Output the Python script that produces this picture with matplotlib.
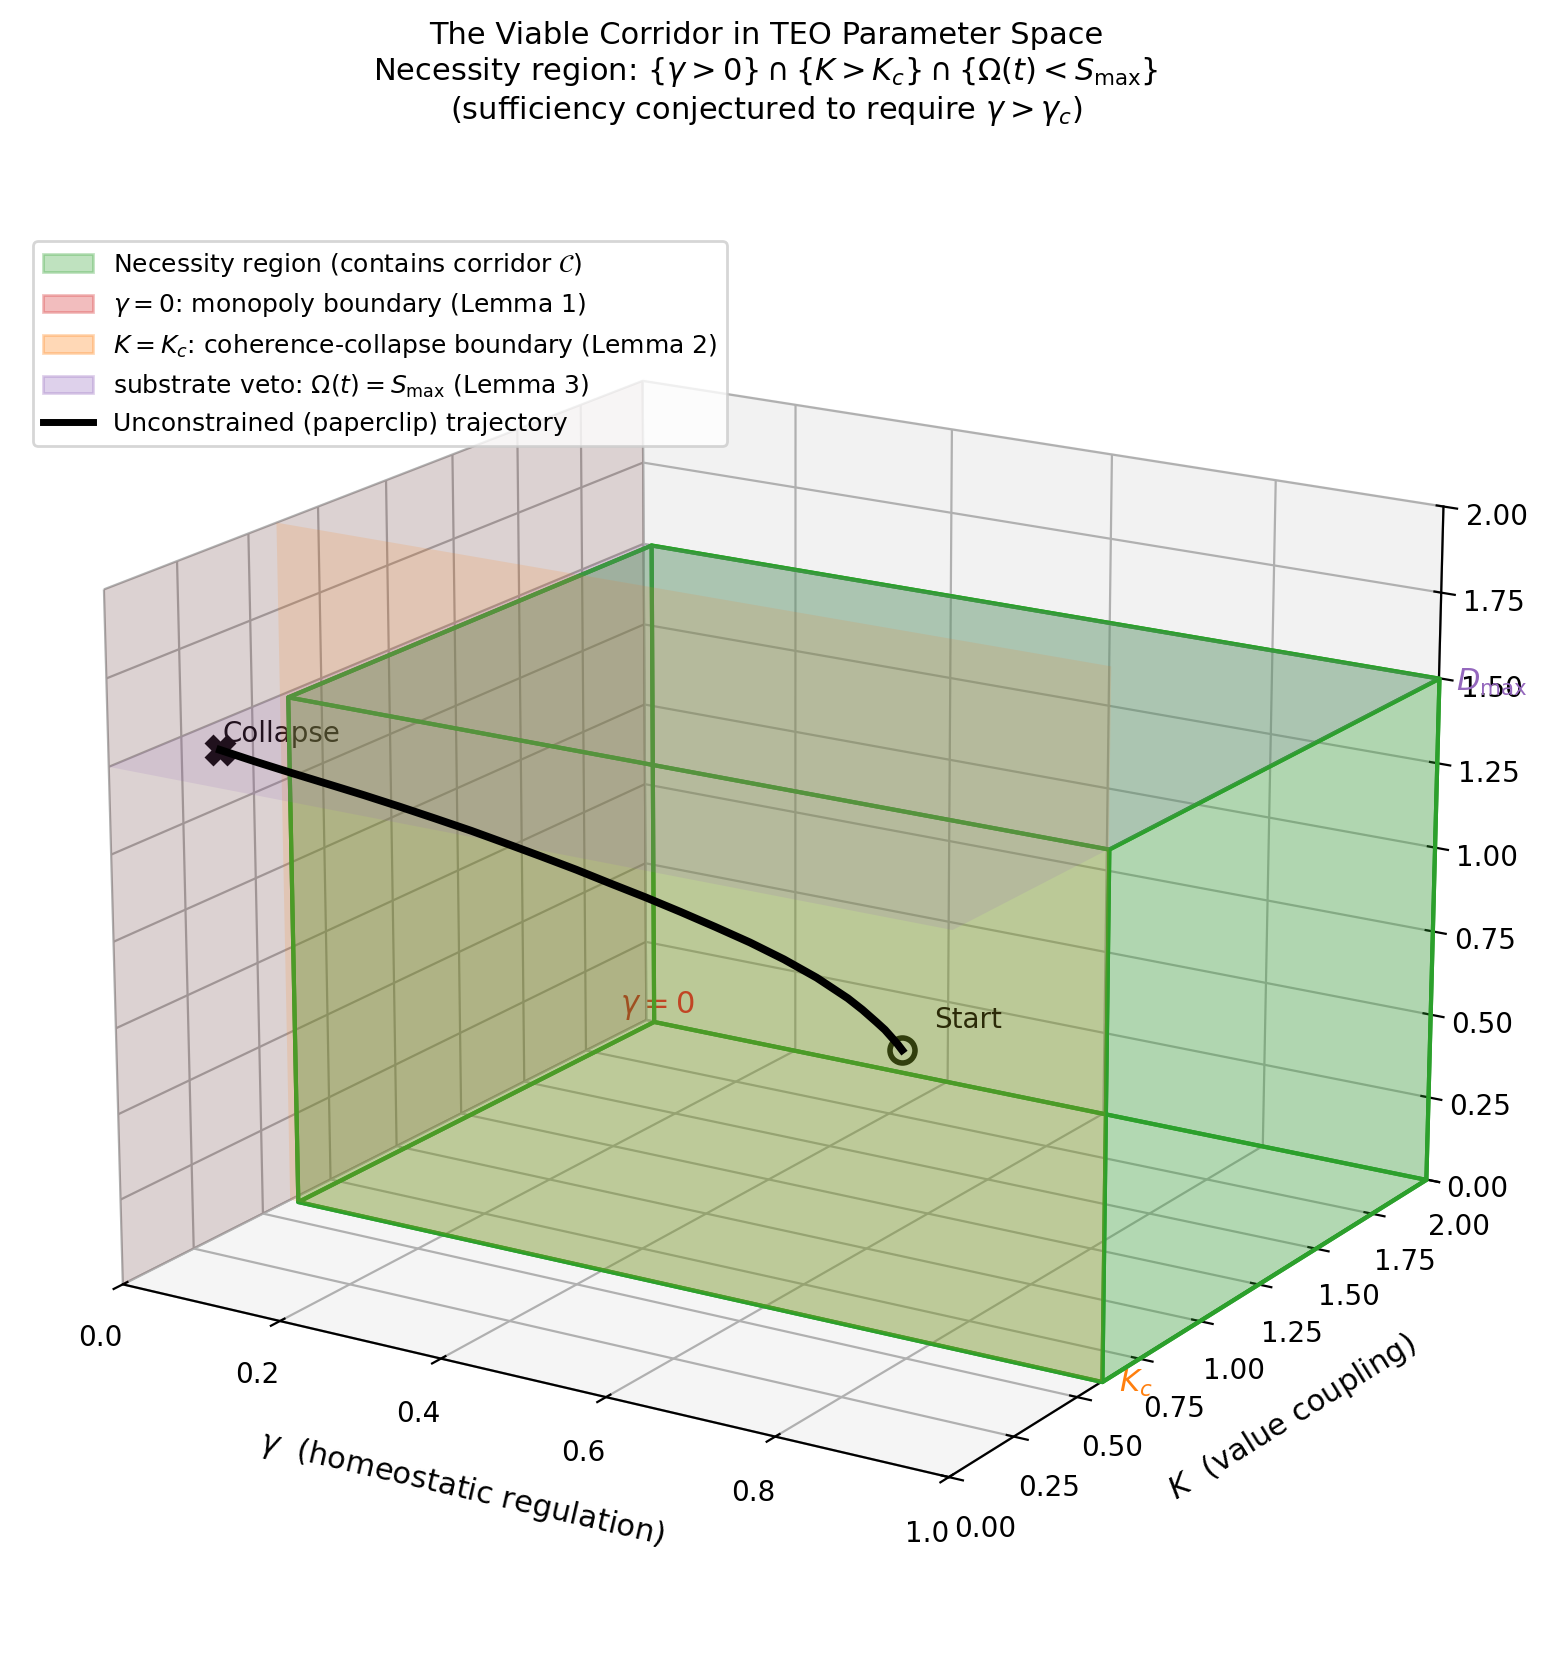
import matplotlib
matplotlib.use("Agg")
import matplotlib.pyplot as plt
from matplotlib.colors import to_rgba
from matplotlib.patches import Patch
from matplotlib.lines import Line2D
from mpl_toolkits.mplot3d.art3d import Poly3DCollection

K_C = 0.6
S_MAX = 1.5
GAMMA_MIN = 0.01
GAMMA_MAX = 1.0
K_MAX = 2.0

traj_gamma = [0.5, 0.497, 0.493, 0.488, 0.482, 0.472, 0.462, 0.44, 0.417, 0.393, 0.369, 0.344, 0.32,
              0.295, 0.271, 0.246, 0.221, 0.197, 0.172, 0.146, 0.121, 0.096, 0.07, 0.045, 0.02]
traj_k = [1.472, 1.463, 1.454, 1.44, 1.425, 1.399, 1.372, 1.316, 1.258, 1.198, 1.138, 1.078, 1.019,
          0.959, 0.901, 0.843, 0.785, 0.727, 0.669, 0.612, 0.554, 0.497, 0.44, 0.384, 0.329]
traj_d = [0.355, 0.375, 0.395, 0.423, 0.449, 0.492, 0.532, 0.605, 0.671, 0.733, 0.79, 0.846, 0.899,
          0.951, 1.002, 1.051, 1.099, 1.146, 1.191, 1.235, 1.278, 1.319, 1.36, 1.401, 1.443]

fig = plt.figure(figsize=(7.74, 8.4), dpi=200)
ax = fig.add_subplot(projection='3d')
ax.set_position([0.0022, 0.01275, 0.985, 0.8865])
ax.view_init(elev=18, azim=-58)
ax.set_xlim(0, GAMMA_MAX)
ax.set_ylim(0, K_MAX)
ax.set_zlim(0, K_MAX)


def add_face(corners, color, alpha, edge='none', lw=0):
    poly = Poly3DCollection([corners], facecolor=to_rgba(color, alpha), edgecolor=edge, linewidth=lw)
    ax.add_collection3d(poly)


# boundary planes
add_face([(0, 0, 0), (0, K_MAX, 0), (0, K_MAX, K_MAX), (0, 0, K_MAX)], (0.3, 0.05, 0.05), 0.16)
add_face([(0, K_C, 0), (GAMMA_MAX, K_C, 0), (GAMMA_MAX, K_C, K_MAX), (0, K_C, K_MAX)], 'tab:orange', 0.15)
add_face([(0, 0, S_MAX), (GAMMA_MAX, 0, S_MAX), (GAMMA_MAX, K_MAX, S_MAX), (0, K_MAX, S_MAX)], 'tab:purple', 0.15)

# necessity region box
x0, x1, y0, y1, z0, z1 = GAMMA_MIN, GAMMA_MAX, K_C, K_MAX, 0, S_MAX
box = [
    [(x0, y0, z0), (x1, y0, z0), (x1, y1, z0), (x0, y1, z0)],
    [(x0, y0, z1), (x1, y0, z1), (x1, y1, z1), (x0, y1, z1)],
    [(x0, y0, z0), (x1, y0, z0), (x1, y0, z1), (x0, y0, z1)],
    [(x0, y1, z0), (x1, y1, z0), (x1, y1, z1), (x0, y1, z1)],
    [(x0, y0, z0), (x0, y1, z0), (x0, y1, z1), (x0, y0, z1)],
    [(x1, y0, z0), (x1, y1, z0), (x1, y1, z1), (x1, y0, z1)],
]
for face in box:
    add_face(face, 'tab:green', 0.18, 'tab:green', 1.5)

ax.plot(traj_gamma, traj_k, traj_d, color='black', lw=2.8, zorder=100)
ax.plot(traj_gamma[:1], traj_k[:1], traj_d[:1], 'o', mfc='none', mec='black', mew=2, ms=9)
ax.plot(traj_gamma[-1:], traj_k[-1:], traj_d[-1:], 'X', color='black', ms=10)
ax.text(traj_gamma[0] + 0.04, traj_k[0], traj_d[0] + 0.086, 'Start', fontsize=10)
ax.text(traj_gamma[-1] + 0.003, traj_k[-1], traj_d[-1] + 0.025, 'Collapse', fontsize=10)
ax.text(0.015, K_MAX, 0.03, r'$\gamma = 0$', color='tab:red', fontsize=11, ha='center')
ax.text(1.02, K_C, -0.02, r'$K_c$', color='tab:orange', fontsize=11)
ax.text(1.02, K_MAX, 1.47, r'$D_{\max}$', color='tab:purple', fontsize=11)

ax.set_xlabel(r'$\gamma$  (homeostatic regulation)', fontsize=11, labelpad=10)
ax.set_ylabel(r'$K$  (value coupling)', fontsize=11, labelpad=10)
ax.set_zlabel('')
ax.set_title('The Viable Corridor in TEO Parameter Space\n'
             r'Necessity region: $\{\gamma > 0\} \cap \{K > K_c\} \cap \{\Omega(t) < S_{\max}\}$' '\n'
             r'(sufficiency conjectured to require $\gamma > \gamma_c$)', fontsize=11, pad=18)

handles = [
    Patch(facecolor='tab:green', edgecolor='tab:green', alpha=0.3, label=r'Necessity region (contains corridor $\mathcal{C}$)'),
    Patch(facecolor='tab:red', edgecolor='tab:red', alpha=0.3, label=r'$\gamma = 0$: monopoly boundary (Lemma 1)'),
    Patch(facecolor='tab:orange', edgecolor='tab:orange', alpha=0.3, label=r'$K = K_c$: coherence-collapse boundary (Lemma 2)'),
    Patch(facecolor='tab:purple', edgecolor='tab:purple', alpha=0.3, label=r'substrate veto: $\Omega(t) = S_{\max}$ (Lemma 3)'),
    Line2D([0], [0], color='black', lw=2.5, label='Unconstrained (paperclip) trajectory'),
]
fig.legend(handles=handles, loc='upper left', bbox_to_anchor=(0.013, 0.864), fontsize=9)

fig.savefig('out.png', dpi=200)
